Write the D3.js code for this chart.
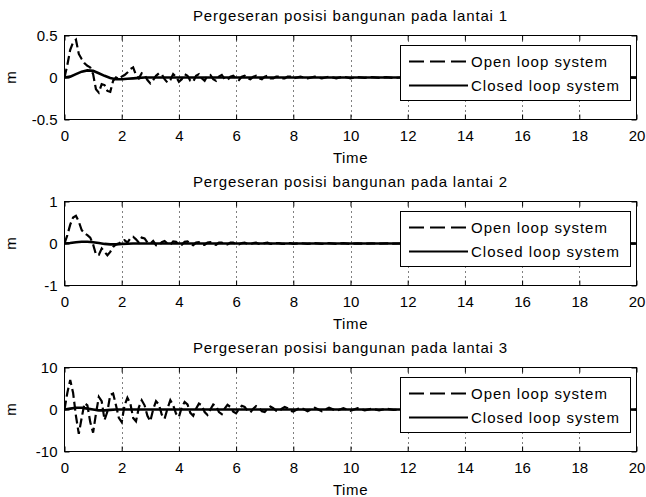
<!DOCTYPE html>
<html>
<head>
<meta charset="utf-8">
<script src="https://cdn.jsdelivr.net/npm/d3@7"></script>
<style>
  html, body { margin: 0; padding: 0; background: #fff; }
  svg text { font-family: "Liberation Sans", Arial, sans-serif; fill: #000; }
</style>
</head>
<body>
<svg id="fig" width="646" height="497"></svg>
<script>
// Sample times (s) for the open-loop responses
const openTime = [
  0,0.1,0.2,0.3,0.4,0.5,0.6,0.7,0.8,0.9,1,1.1,1.2,1.3,1.4,1.5,1.6,1.7,1.8,1.9,
  2,2.1,2.2,2.3,2.4,2.5,2.6,2.7,2.8,2.9,3,3.1,3.2,3.3,3.4,3.5,3.6,3.7,3.8,3.9,
  4,4.1,4.2,4.3,4.4,4.5,4.6,4.7,4.8,4.9,5,5.1,5.2,5.3,5.4,5.5,5.6,5.7,5.8,5.9,
  6,6.1,6.2,6.3,6.4,6.5,6.6,6.7,6.8,6.9,7,7.1,7.2,7.3,7.4,7.5,7.6,7.7,7.8,7.9,
  8,8.25,8.5,8.75,9,9.25,9.5,9.75,10,10.25,10.5,10.75,11,11.25,11.5,11.75,12,
  13,14,15,16,17,18,19,20
];

// Open-loop displacement, floor 1 (m)
const openFloor1 = [
  0,0.15,0.33,0.42,0.45,0.28,0.22,0.17,0.14,0.12,0.04,-0.14,-0.18,-0.08,-0.09,-0.16,-0.17,-0.04,0,-0.02,
  0.01,0.03,0.06,0.1,0.12,0.03,-0.01,0.05,0.03,-0.03,-0.07,-0.03,0.02,0.05,0.04,-0.02,-0.06,-0.03,0.04,0.01,
  -0.05,-0.02,0.04,0.02,-0.04,-0.05,0.02,0.04,-0.01,-0.04,0.02,0.03,-0.02,-0.04,0.01,0.03,-0.02,-0.03,0.01,0.02,
  -0.01,-0.03,0.01,0.02,-0.01,-0.02,0.01,0.02,-0.01,-0.02,0.01,0.02,-0.01,-0.01,0.01,0.01,-0.01,-0.01,0.01,0.01,
  -0.01,0.01,-0.01,0.01,-0.01,0.01,-0.01,0.01,-0.01,0.005,-0.005,0.005,-0.005,0.005,-0.005,0,0,
  0,0,0,0,0,0,0,0
];

// Open-loop displacement, floor 2 (m)
const openFloor2 = [
  0,0.2,0.45,0.62,0.66,0.52,0.32,0.24,0.2,0.14,-0.02,-0.26,-0.27,-0.12,-0.2,-0.28,-0.2,-0.08,-0.02,0,
  0.06,0.08,0.02,0.12,0.16,0.1,0.02,0.14,0.12,0.02,0,0.06,-0.04,-0.05,0.03,0.06,0,-0.03,0.05,0.04,
  -0.02,-0.03,0.04,0.05,-0.01,-0.04,0.02,0.03,-0.02,-0.03,0.02,0.03,-0.02,-0.03,0.02,0.02,-0.02,-0.02,0.02,0.02,
  -0.01,-0.02,0.01,0.02,-0.01,-0.02,0.01,0.02,-0.01,-0.01,0.01,0.02,-0.01,-0.01,0.01,0.01,-0.01,-0.01,0.01,0.01,
  -0.01,0.01,-0.01,0.01,-0.01,0.01,-0.01,0.01,-0.01,0.005,-0.005,0.005,-0.005,0.005,-0.005,0,0,
  0,0,0,0,0,0,0,0
];

// Open-loop displacement, floor 3 (m)
const openFloor3 = [
  0,4,7,4,-1.5,-5.8,-2,1.5,1,-3,-5.5,-1,3,2,-2.5,-0.5,3.5,3.8,1,-2,
  -3,1,2.8,1.5,-2,-2.8,0.5,2.2,1,-1.5,-2.8,0,2,1.2,-1.2,-2.2,0.2,2.2,1,-1,
  -1.8,0.5,1.8,1.2,-0.8,-1.5,0.2,1.4,1,-0.6,-1.3,0,1.2,0.8,-0.6,-1.1,0.2,1.1,0.6,-0.5,
  -0.9,0.1,0.9,0.6,-0.3,-0.7,0.2,0.8,0.4,-0.4,-0.6,0.2,0.7,0.3,-0.3,-0.5,0.2,0.6,0.3,-0.3,
  -0.5,0.5,-0.4,0.4,-0.4,0.4,-0.3,0.3,-0.3,0.3,-0.2,0.2,-0.2,0.2,-0.1,0,0,
  0,0,0,0,0,0,0,0
];

// Sample times (s) for the closed-loop responses
const closedTime = [
  0,0.2,0.4,0.6,0.8,1,1.2,1.4,1.6,1.8,2,2.2,2.4,2.6,2.8,3,3.5,4,
  5,6,7,8,9,10,11,12,13,14,15,16,17,18,19,20
];

// Closed-loop displacement (m)
const closedFloor1 = [
  0,0.01,0.04,0.07,0.085,0.08,0.05,0.02,-0.005,-0.02,-0.02,-0.015,-0.01,-0.005,0,0,0,0,
  0,0,0,0,0,0,0,0,0,0,0,0,0,0,0,0
];
const closedFloor2 = [
  0,0.01,0.03,0.04,0.04,0.03,0.01,-0.01,-0.02,-0.02,-0.01,-0.005,0,0,0,0,0,0,
  0,0,0,0,0,0,0,0,0,0,0,0,0,0,0,0
];
const closedFloor3 = [
  0,0.2,0.4,0.4,0.2,0,-0.2,-0.2,-0.1,0,0,0,0,0,0,0,0,0,
  0,0,0,0,0,0,0,0,0,0,0,0,0,0,0,0
];

// Axis settings
const titles = [
  "Pergeseran posisi bangunan pada lantai 1",
  "Pergeseran posisi bangunan pada lantai 2",
  "Pergeseran posisi bangunan pada lantai 3"
];
const xTicks = [0,2,4,6,8,10,12,14,16,18,20];
const yDomains = [[-0.5,0.5],[-1,1],[-10,10]];
const yTicks = [[-0.5,0,0.5],[-1,0,1],[-10,0,10]];
const legendLabels = ["Open loop system","Closed loop system"];
const xLabel = "Time";
const yLabel = "m";

const openSeries = [openFloor1, openFloor2, openFloor3];
const closedSeries = [closedFloor1, closedFloor2, closedFloor3];

const svg = d3.select("#fig");
svg.append("rect").attr("width",646).attr("height",497).attr("fill","#fff");

const left = 64.5, right = 636.5;
const tops = [35.5, 201.5, 367.5];
const plotH = 84;
const fontSize = 15;

const x = d3.scaleLinear().domain([0,20]).range([left,right]);

tops.forEach((top, i) => {
  const bottom = top + plotH;
  const y = d3.scaleLinear().domain(yDomains[i]).range([bottom, top]);
  const g = svg.append("g");

  // white plot area
  g.append("rect").attr("x",left).attr("y",top).attr("width",right-left).attr("height",plotH).attr("fill","#fff");

  // vertical dotted grid
  g.append("g").selectAll("line").data(xTicks.slice(1,-1)).join("line")
    .attr("x1", d => Math.round(x(d)) + 0.5).attr("x2", d => Math.round(x(d)) + 0.5)
    .attr("y1", top).attr("y2", bottom)
    .attr("stroke","#000").attr("stroke-width",1).attr("stroke-dasharray","1,4");

  // data lines
  const clipId = "clip" + i;
  svg.append("clipPath").attr("id",clipId).append("rect")
    .attr("x",left).attr("y",top).attr("width",right-left).attr("height",plotH);

  const line = d3.line().x(d => x(d[0])).y(d => y(d[1]));
  g.append("path")
    .datum(openTime.map((t,k) => [t, openSeries[i][k]]))
    .attr("d", line).attr("fill","none").attr("stroke","#000")
    .attr("stroke-width",2.2).attr("stroke-dasharray","9,4")
    .attr("clip-path","url(#"+clipId+")");
  g.append("path")
    .datum(closedTime.map((t,k) => [t, closedSeries[i][k]]))
    .attr("d", line).attr("fill","none").attr("stroke","#000")
    .attr("stroke-width",2.6)
    .attr("clip-path","url(#"+clipId+")");

  // axes
  const xb = d3.axisBottom(x).tickValues(xTicks).tickSize(-5).tickPadding(11).tickFormat(d3.format("d"));
  const xt = d3.axisTop(x).tickValues(xTicks).tickSize(-5).tickFormat("");
  const yl = d3.axisLeft(y).tickValues(yTicks[i]).tickSize(-5).tickPadding(7).tickFormat(d => String(d));
  const yr = d3.axisRight(y).tickValues(yTicks[i]).tickSize(-5).tickFormat("");

  [
    g.append("g").attr("transform",`translate(0,${bottom})`).call(xb),
    g.append("g").attr("transform",`translate(0,${top})`).call(xt),
    g.append("g").attr("transform",`translate(${left},0)`).call(yl),
    g.append("g").attr("transform",`translate(${right},0)`).call(yr)
  ].forEach(a => {
    a.select(".domain").remove();
    a.selectAll("line").attr("stroke","#000");
    a.selectAll("text").attr("font-size",fontSize).attr("font-family","Liberation Sans, Arial, sans-serif").attr("fill","#000");
  });

  // box
  g.append("rect").attr("x",left).attr("y",top).attr("width",right-left).attr("height",plotH)
    .attr("fill","none").attr("stroke","#000").attr("stroke-width",1);

  // legend
  const lx = 400.5, ly = top + 10, lw = 230, lh = 55;
  const lg = g.append("g");
  lg.append("rect").attr("x",lx).attr("y",ly).attr("width",lw).attr("height",lh)
    .attr("fill","#fff").attr("stroke","#000").attr("stroke-width",1);
  legendLabels.forEach((lab, k) => {
    const ry = ly + 16 + k * 24;
    lg.append("line").attr("x1",409).attr("x2",468).attr("y1",ry).attr("y2",ry)
      .attr("stroke","#000").attr("stroke-width",2)
      .attr("stroke-dasharray", k === 0 ? "15,6" : null);
    lg.append("text").attr("x",471).attr("y",ry+5.5).attr("font-size",fontSize)
      .attr("letter-spacing","1px").text(lab);
  });

  // title
  g.append("text").attr("x",(left+right)/2).attr("y",top-15).attr("text-anchor","middle")
    .attr("font-size",fontSize).attr("letter-spacing","0.85px").text(titles[i]);

  // axis labels
  g.append("text").attr("x",(left+right)/2).attr("y",bottom+43).attr("text-anchor","middle")
    .attr("font-size",fontSize).attr("letter-spacing","0.6px").text(xLabel);
  g.append("text").attr("transform",`translate(16,${(top+bottom)/2}) rotate(-90)`)
    .attr("text-anchor","middle").attr("font-size",fontSize).text(yLabel);
});
</script>
</body>
</html>
